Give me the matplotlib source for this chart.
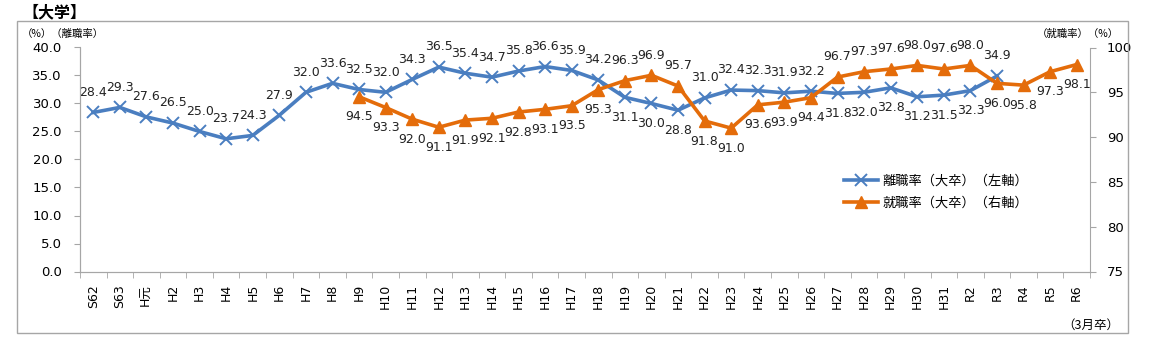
import numpy as np
import matplotlib
matplotlib.use("Agg")
import matplotlib.pyplot as plt
from matplotlib.patches import Rectangle

plt.rcParams['font.family'] = ['DejaVu Sans', 'Noto Sans CJK JP']
JP = ['Noto Sans CJK JP', 'DejaVu Sans']

# --- dati ---
years = ['S62', 'S63', 'H元'] + [f'H{i}' for i in range(2, 32)] + ['R2', 'R3', 'R4', 'R5', 'R6']

# tasso di abbandono (S62 - R3), asse sinistro
rishoku = [28.4, 29.3, 27.6, 26.5, 25.0, 23.7, 24.3, 27.9, 32.0, 33.6,
           32.5, 32.0, 34.3, 36.5, 35.4, 34.7, 35.8, 36.6, 35.9, 34.2,
           31.1, 30.0, 28.8, 31.0, 32.4, 32.3, 31.9, 32.2, 31.8, 32.0,
           32.8, 31.2, 31.5, 32.3, 34.9]
# tasso di occupazione (H9 - R6), asse destro
shushoku = [94.5, 93.3, 92.0, 91.1, 91.9, 92.1, 92.8, 93.1, 93.5, 95.3,
            96.3, 96.9, 95.7, 91.8, 91.0, 93.6, 93.9, 94.4, 96.7, 97.3,
            97.6, 98.0, 97.6, 98.0, 96.0, 95.8, 97.3, 98.1]

# posizione etichette: a = sopra, b = sotto
pos_rishoku = list('aaaaaaaaaaaaaaaaaaaabbbaaaaabbbbbba')
pos_shushoku = list('bbbbbbbbbbaaabbbbbaaaaaabbbb')

BLUE = '#4A7EC0'
ORANGE = '#E46C0A'
GRAY = '#A6A6A6'

x_all = np.arange(len(years))
x_r = x_all[:len(rishoku)]
x_s = x_all[len(years) - len(shushoku):]

fig = plt.figure(figsize=(11.69, 3.44), dpi=100)
ax = fig.add_axes([80 / 1169, 1 - 271.5 / 344, 1010 / 1169, 224 / 344])
ax2 = ax.twinx()

ax.plot(x_r, rishoku, color=BLUE, lw=2.6, marker='x', ms=8, mew=1.4,
        label='離職率（大卒）（左軸）', zorder=3)
ax2.plot(x_s, shushoku, color=ORANGE, lw=2.6, marker='^', ms=8,
         label='就職率（大卒）（右軸）', zorder=3)

for xi, v, p in zip(x_r, rishoku, pos_rishoku):
    dy = 14.5 if p == 'a' else -14.5
    ax.annotate(f'{v:.1f}', (xi, v), xytext=(0, dy), textcoords='offset points',
                ha='center', va='center', fontsize=9, color='#222222')
for xi, v, p in zip(x_s, shushoku, pos_shushoku):
    dy = 14.5 if p == 'a' else -14.5
    ax2.annotate(f'{v:.1f}', (xi, v), xytext=(0, dy), textcoords='offset points',
                 ha='center', va='center', fontsize=9, color='#222222')

ax.set_xlim(-0.5, len(years) - 0.5)
ax.set_ylim(0, 40)
ax.set_yticks(np.arange(0, 41, 5))
ax.set_yticklabels([f'{t:.1f}' for t in np.arange(0, 41, 5)])
ax2.set_ylim(75, 100)
ax2.set_yticks(np.arange(75, 101, 5))

ax.set_xticks(x_all)
ax.set_xticklabels(years, rotation=90, fontsize=9)
ax.set_xticks(np.arange(-0.5, len(years)), minor=True)
ax.tick_params(axis='x', which='major', length=0, pad=9)
ax.tick_params(axis='x', which='minor', length=4, color=GRAY)
ax.tick_params(axis='y', length=4, color=GRAY, labelsize=9.5, pad=9)
ax2.tick_params(axis='y', length=4, color=GRAY, labelsize=9.5, pad=8)

for a in (ax, ax2):
    a.spines['top'].set_visible(False)
    for s in ('left', 'right', 'bottom'):
        a.spines[s].set_color(GRAY)
ax.spines['right'].set_visible(False)

# cornice esterna
fig.patches.append(Rectangle((17 / 1169, 1 - 333 / 344), 1111 / 1169, 312 / 344,
                             transform=fig.transFigure, fill=False,
                             edgecolor=GRAY, lw=1))

fig.text(22 / 1169, 1 - 12 / 344, '【大学】', fontsize=11.5, fontweight='bold',
         va='center', ha='left', family=JP)
fig.text(22 / 1169, 1 - 34 / 344, '（%）（離職率）', fontsize=7.5, va='center', family=JP)
fig.text(1119 / 1169, 1 - 34 / 344, '（就職率）（%）', fontsize=7.5, va='center',
         ha='right', family=JP)
fig.text(1119 / 1169, 1 - 325 / 344, '（3月卒）', fontsize=9, va='center',
         ha='right', family=JP)

h1, l1 = ax.get_legend_handles_labels()
h2, l2 = ax2.get_legend_handles_labels()
fig.legend(h1 + h2, l1 + l2, loc='upper left',
           bbox_to_anchor=(832 / 1169, 1 - 163 / 344), frameon=False,
           prop={'family': JP, 'size': 9.5}, handlelength=2.6,
           labelspacing=0.7, handletextpad=0.3)

plt.savefig('out.png', dpi=100)
